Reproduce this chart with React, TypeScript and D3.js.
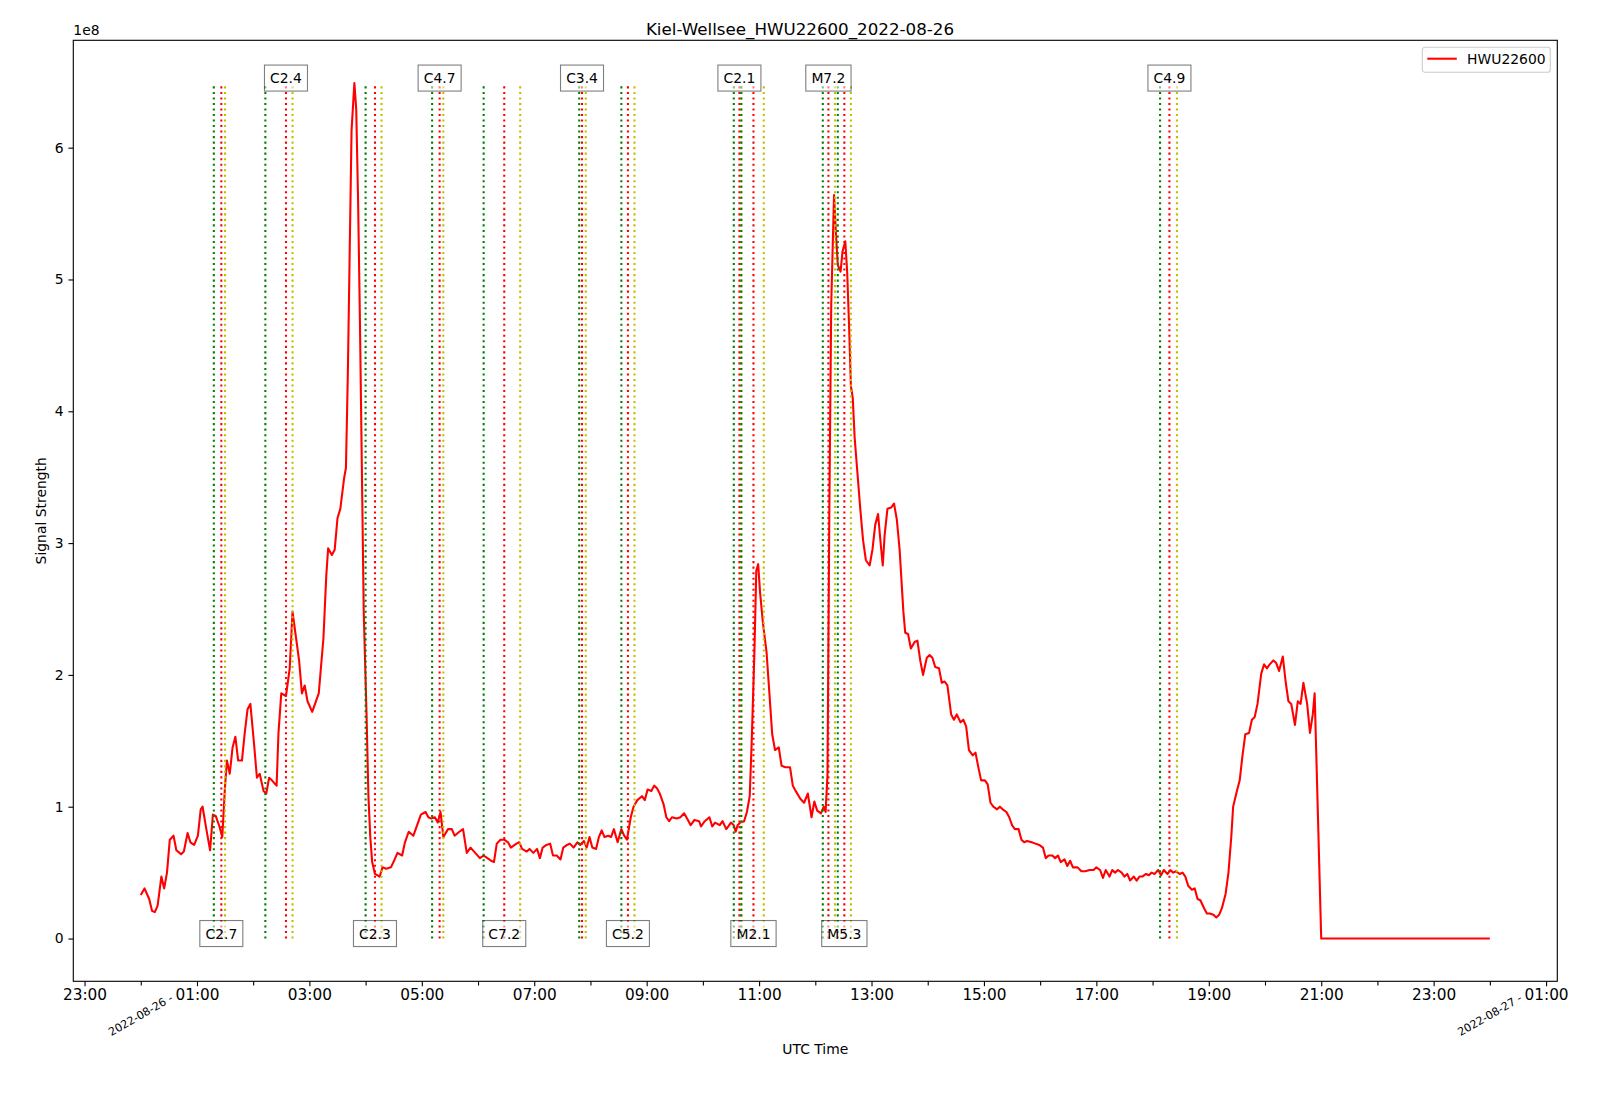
import React, { useEffect, useRef } from "react";
import * as d3 from "d3";

const TITLE = "Kiel-Wellsee_HWU22600_2022-08-26";
const STATION = "HWU22600";
const DAY = "2022-08-26";

// [minutes after 00:00 UTC, signal strength in units of 1e8]
const readings: [number, number][] = [
  [0, 0.33], [4, 0.38], [9, 0.3], [12, 0.21], [15, 0.2], [18, 0.25], [22, 0.47], [25, 0.38], [28, 0.5], [31, 0.75],
  [35, 0.78], [38, 0.67], [43, 0.64], [46, 0.66], [50, 0.8], [53, 0.73], [57, 0.71], [61, 0.78], [64, 0.98], [66, 1.0],
  [70, 0.83], [74, 0.67], [77, 0.94], [80, 0.93], [84, 0.85], [87, 0.77], [90, 1.16], [92, 1.35], [95, 1.25], [98, 1.45],
  [101, 1.53], [104, 1.35], [108, 1.35], [111, 1.56], [114, 1.74], [117, 1.78], [121, 1.47], [124, 1.22], [127, 1.25], [131, 1.12],
  [134, 1.1], [137, 1.22], [140, 1.2], [145, 1.16], [147, 1.56], [150, 1.86], [155, 1.84], [159, 2.05], [162, 2.48], [165, 2.32],
  [169, 2.11], [172, 1.86], [175, 1.92], [178, 1.8], [183, 1.72], [186, 1.78], [190, 1.86], [195, 2.28], [198, 2.75], [200, 2.96],
  [204, 2.91], [207, 2.95], [210, 3.19], [213, 3.26], [217, 3.49], [219, 3.57], [221, 4.27], [223, 5.2], [225, 6.13], [228, 6.49],
  [230, 6.29], [232, 5.59], [234, 4.66], [236, 3.57], [238, 2.48], [241, 1.7], [243, 1.08], [245, 0.77], [247, 0.58], [250, 0.49],
  [255, 0.47], [258, 0.54], [262, 0.53], [267, 0.54], [271, 0.6], [274, 0.65], [279, 0.63], [282, 0.73], [286, 0.81], [291, 0.78],
  [295, 0.86], [299, 0.94], [304, 0.96], [307, 0.92], [310, 0.91], [314, 0.92], [317, 0.88], [320, 0.96], [323, 0.77], [328, 0.83],
  [332, 0.83], [335, 0.78], [340, 0.81], [344, 0.83], [348, 0.65], [352, 0.69], [357, 0.65], [362, 0.61], [366, 0.63], [370, 0.61],
  [374, 0.59], [377, 0.58], [380, 0.72], [384, 0.75], [388, 0.75], [392, 0.73], [395, 0.69], [401, 0.72], [404, 0.73], [407, 0.68],
  [412, 0.66], [415, 0.68], [419, 0.65], [423, 0.68], [426, 0.61], [429, 0.69], [433, 0.71], [437, 0.72], [440, 0.63], [444, 0.63],
  [448, 0.6], [451, 0.69], [455, 0.71], [458, 0.72], [462, 0.69], [466, 0.73], [469, 0.71], [473, 0.74], [476, 0.69], [479, 0.77],
  [482, 0.69], [486, 0.68], [489, 0.77], [492, 0.82], [495, 0.77], [499, 0.78], [502, 0.77], [505, 0.83], [509, 0.73], [513, 0.83],
  [516, 0.78], [519, 0.75], [523, 0.92], [526, 1.0], [530, 1.05], [535, 1.08], [538, 1.05], [541, 1.13], [545, 1.12], [548, 1.16],
  [551, 1.14], [554, 1.1], [558, 1.02], [561, 0.92], [564, 0.89], [567, 0.92], [572, 0.91], [576, 0.92], [580, 0.95], [584, 0.9],
  [587, 0.86], [591, 0.9], [596, 0.89], [598, 0.85], [602, 0.89], [607, 0.92], [610, 0.85], [613, 0.88], [618, 0.86], [621, 0.89],
  [625, 0.83], [630, 0.88], [633, 0.86], [635, 0.81], [637, 0.86], [640, 0.88], [644, 0.89], [647, 0.96], [650, 1.08], [652, 1.47],
  [655, 2.17], [657, 2.79], [659, 2.84], [661, 2.63], [664, 2.4], [668, 2.17], [671, 1.86], [674, 1.55], [677, 1.43], [681, 1.45],
  [684, 1.31], [688, 1.3], [693, 1.3], [696, 1.16], [699, 1.12], [704, 1.06], [708, 1.03], [712, 1.1], [716, 0.92], [719, 1.04],
  [722, 0.97], [726, 0.95], [729, 1.0], [731, 0.96], [733, 1.24], [735, 3.26], [737, 4.81], [740, 5.64], [742, 5.35], [744, 5.11],
  [747, 5.06], [749, 5.21], [752, 5.29], [754, 5.06], [756, 4.66], [758, 4.19], [760, 4.1], [762, 3.8], [765, 3.53], [768, 3.26],
  [771, 3.02], [774, 2.87], [778, 2.83], [781, 2.95], [784, 3.14], [787, 3.22], [790, 2.98], [792, 2.83], [794, 3.06], [797, 3.26],
  [801, 3.27], [804, 3.3], [807, 3.18], [810, 2.95], [814, 2.48], [816, 2.32], [819, 2.31], [822, 2.2], [826, 2.25], [829, 2.26],
  [832, 2.11], [835, 2.0], [839, 2.13], [842, 2.15], [845, 2.13], [848, 2.06], [852, 2.05], [855, 1.94], [858, 1.95], [861, 1.92],
  [865, 1.7], [868, 1.66], [871, 1.7], [875, 1.64], [878, 1.66], [881, 1.61], [884, 1.43], [888, 1.39], [891, 1.41], [894, 1.3],
  [897, 1.2], [901, 1.2], [904, 1.17], [907, 1.03], [910, 1.0], [914, 0.98], [917, 1.0], [920, 0.98], [924, 0.96], [927, 0.92],
  [930, 0.86], [933, 0.83], [937, 0.83], [940, 0.75], [943, 0.73], [946, 0.74], [951, 0.73], [955, 0.72], [959, 0.71], [963, 0.69],
  [966, 0.61], [969, 0.63], [973, 0.63], [976, 0.61], [979, 0.63], [982, 0.58], [986, 0.6], [989, 0.55], [992, 0.59], [995, 0.54],
  [1000, 0.54], [1004, 0.51], [1008, 0.51], [1013, 0.52], [1017, 0.52], [1020, 0.54], [1024, 0.52], [1027, 0.46], [1030, 0.52], [1034, 0.47],
  [1037, 0.52], [1040, 0.5], [1043, 0.52], [1047, 0.5], [1050, 0.47], [1053, 0.49], [1056, 0.44], [1060, 0.47], [1063, 0.44], [1066, 0.47],
  [1069, 0.47], [1073, 0.49], [1076, 0.48], [1079, 0.5], [1082, 0.49], [1086, 0.52], [1089, 0.48], [1092, 0.52], [1096, 0.49], [1099, 0.52],
  [1102, 0.5], [1105, 0.51], [1109, 0.49], [1112, 0.5], [1115, 0.47], [1118, 0.4], [1122, 0.37], [1125, 0.38], [1128, 0.3], [1131, 0.29],
  [1135, 0.23], [1138, 0.19], [1141, 0.19], [1145, 0.18], [1148, 0.16], [1151, 0.18], [1154, 0.23], [1158, 0.34], [1161, 0.5], [1164, 0.77],
  [1166, 1.0], [1170, 1.12], [1173, 1.2], [1176, 1.39], [1179, 1.55], [1183, 1.56], [1186, 1.66], [1189, 1.68], [1192, 1.78], [1196, 2.01],
  [1199, 2.08], [1202, 2.05], [1205, 2.08], [1209, 2.11], [1212, 2.09], [1215, 2.03], [1219, 2.14], [1222, 1.95], [1225, 1.8], [1228, 1.78],
  [1232, 1.62], [1235, 1.8], [1238, 1.78], [1241, 1.94], [1245, 1.78], [1248, 1.56], [1251, 1.7], [1253, 1.86], [1260, 0], [1440, 0],
];

// flares, times in minutes after 00:00 UTC
const flareClass = ["C2.7", "C2.4", "C2.3", "C4.7", "C7.2", "C3.4", "C5.2", "C2.1", "M2.1", "M7.2", "M5.3", "C4.9"];
const flareStart = [78, 133, 240, 311, 366, 468, 513, 633, 641, 728, 744, 1088];
const flarePeak = [86, 155, 250, 319, 388, 471, 520, 639, 654, 734, 751, 1098];
const flareEnd = [90, 162, 257, 323, 405, 475, 527, 641, 665, 741, 758, 1106];

const yTicks = [0, 1, 2, 3, 4, 5, 6];

const App: React.FC = () => {
  const svgRef = useRef<SVGSVGElement | null>(null);

  useEffect(() => {
    const width = 1600;
    const height = 1102;
    const margin = { top: 40.3, right: 42.7, bottom: 120.7, left: 73.3 };
    const font = "'DejaVu Sans', sans-serif";

    const svg = d3.select(svgRef.current);
    svg.selectAll("*").remove();
    svg.attr("width", width).attr("height", height);

    const dayStart = new Date(`${DAY}T00:00:00Z`);
    const toTime = (m: number) => new Date(dayStart.getTime() + m * 60000);

    const [tMin, tMax] = d3.extent(readings, d => d[0]) as [number, number];
    const tPad = (tMax - tMin) * 0.05;
    const x = d3
      .scaleUtc()
      .domain([toTime(tMin - tPad), toTime(tMax + tPad)])
      .range([margin.left, width - margin.right]);

    const vMax = d3.max(readings, d => d[1]) || 0;
    const vPad = vMax * 0.05;
    const y = d3
      .scaleLinear()
      .domain([-vPad, vMax + vPad])
      .range([height - margin.bottom, margin.top]);

    const bottom = height - margin.bottom;

    // Signal
    svg
      .append("path")
      .datum(readings)
      .attr("fill", "none")
      .attr("stroke", "#ff0000")
      .attr("stroke-width", 2.08)
      .attr("stroke-linejoin", "round")
      .attr("d", d3.line<[number, number]>()
        .x(d => x(toTime(d[0])))
        .y(d => y(d[1])));

    // Flare start / peak / end lines
    const flareLines = svg.append("g");
    flareClass.forEach((_, i) => {
      [
        [flareStart[i], "#008000"],
        [flarePeak[i], "#ff0000"],
        [flareEnd[i], "#bfbf00"],
      ].forEach(([m, c]) => {
        const px = x(toTime(m as number));
        flareLines
          .append("line")
          .attr("x1", px)
          .attr("x2", px)
          .attr("y1", y(0))
          .attr("y2", y(vMax))
          .attr("stroke", c as string)
          .attr("stroke-width", 2.08)
          .attr("stroke-dasharray", "2.08,3.44");
      });
    });

    // Flare class labels, alternating bottom / top
    flareClass.forEach((cls, i) => {
      const onTop = i % 2 === 1;
      const g = svg
        .append("g")
        .attr("transform", `translate(${x(toTime(flarePeak[i]))},${y(onTop ? vMax : 0) - 5})`);
      const box = g.append("rect");
      const t = g
        .append("text")
        .attr("text-anchor", "middle")
        .attr("dominant-baseline", "central")
        .attr("font-family", font)
        .attr("font-size", 13.9)
        .attr("fill", "#000")
        .text(cls);
      const w = (t.node() as SVGTextElement).getComputedTextLength();
      box
        .attr("x", -w / 2 - 5.6)
        .attr("y", -13)
        .attr("width", w + 11.2)
        .attr("height", 26)
        .attr("fill", "#fff")
        .attr("fill-opacity", 0.5)
        .attr("stroke", "#000")
        .attr("stroke-opacity", 0.5)
        .attr("stroke-width", 1.11);
    });

    // Y Axis
    svg
      .append("g")
      .attr("transform", `translate(${margin.left},0)`)
      .call(d3.axisLeft(y).tickValues(yTicks).tickSize(4.86).tickPadding(4.86).tickFormat(d => `${d}`))
      .call(g => g.select(".domain").remove())
      .call(g => g.selectAll("line").attr("stroke-width", 1.11))
      .call(g => g.selectAll("text").attr("font-family", font).attr("font-size", 13.9));

    svg
      .append("text")
      .attr("x", margin.left)
      .attr("y", 35)
      .attr("font-family", font)
      .attr("font-size", 13.9)
      .text("1e8");

    // X Axis: odd hours labelled, even hours minor
    const [d0, d1] = x.domain();
    const hours = d3.utcHour.range(d0, d1);
    const oddHours = hours.filter(h => h.getUTCHours() % 2 === 1);
    const evenHours = hours.filter(h => h.getUTCHours() % 2 === 0);

    svg
      .append("g")
      .attr("transform", `translate(0,${bottom})`)
      .call(d3.axisBottom(x).tickValues(oddHours).tickSize(4.86).tickPadding(2.5).tickFormat(d => d3.utcFormat("%H:%M")(d as Date)))
      .call(g => g.select(".domain").remove())
      .call(g => g.selectAll("line").attr("stroke-width", 1.11))
      .call(g => g.selectAll("text").attr("font-family", font).attr("font-size", 15.3));

    svg
      .append("g")
      .attr("transform", `translate(0,${bottom})`)
      .call(d3.axisBottom(x).tickValues(evenHours).tickSize(4.2).tickFormat(() => ""))
      .call(g => g.select(".domain").remove())
      .call(g => g.selectAll("line").attr("stroke-width", 1.11));

    // Date labels at midnight
    evenHours
      .filter(h => h.getUTCHours() === 0)
      .forEach(h => {
        svg
          .append("text")
          .attr("transform", `translate(${x(h)},${bottom + 34})rotate(-30)`)
          .attr("text-anchor", "middle")
          .attr("dominant-baseline", "central")
          .attr("font-family", font)
          .attr("font-size", 11.1)
          .text(d3.utcFormat("%Y-%m-%d -")(h));
      });

    // Frame
    svg
      .append("rect")
      .attr("x", margin.left)
      .attr("y", margin.top)
      .attr("width", width - margin.left - margin.right)
      .attr("height", height - margin.top - margin.bottom)
      .attr("fill", "none")
      .attr("stroke", "#000")
      .attr("stroke-width", 1.11);

    // Titles
    svg
      .append("text")
      .attr("x", width / 2)
      .attr("y", 28.5)
      .attr("text-anchor", "middle")
      .attr("dominant-baseline", "central")
      .attr("font-family", font)
      .attr("font-size", 16.7)
      .text(TITLE);

    svg
      .append("text")
      .attr("x", (margin.left + width - margin.right) / 2)
      .attr("y", 1049)
      .attr("text-anchor", "middle")
      .attr("dominant-baseline", "central")
      .attr("font-family", font)
      .attr("font-size", 13.9)
      .text("UTC Time");

    svg
      .append("text")
      .attr("transform", `translate(41,${(margin.top + bottom) / 2})rotate(-90)`)
      .attr("text-anchor", "middle")
      .attr("dominant-baseline", "central")
      .attr("font-family", font)
      .attr("font-size", 13.9)
      .text("Signal Strength");

    // Legend
    const legend = svg.append("g").attr("transform", `translate(${width - margin.right - 135},${margin.top + 7})`);
    legend
      .append("rect")
      .attr("width", 128)
      .attr("height", 25)
      .attr("rx", 2.8)
      .attr("fill", "#fff")
      .attr("fill-opacity", 0.8)
      .attr("stroke", "#cccccc")
      .attr("stroke-width", 1.11);
    legend
      .append("line")
      .attr("x1", 5)
      .attr("x2", 34.5)
      .attr("y1", 11.4)
      .attr("y2", 11.4)
      .attr("stroke", "#ff0000")
      .attr("stroke-width", 2.08);
    legend
      .append("text")
      .attr("x", 44.8)
      .attr("y", 12.2)
      .attr("dominant-baseline", "central")
      .attr("font-family", font)
      .attr("font-size", 13.9)
      .text(STATION);
  }, []);

  return <svg ref={svgRef} style={{ position: "absolute", left: 0, top: 0, background: "#fff" }}></svg>;
};

export default App;
